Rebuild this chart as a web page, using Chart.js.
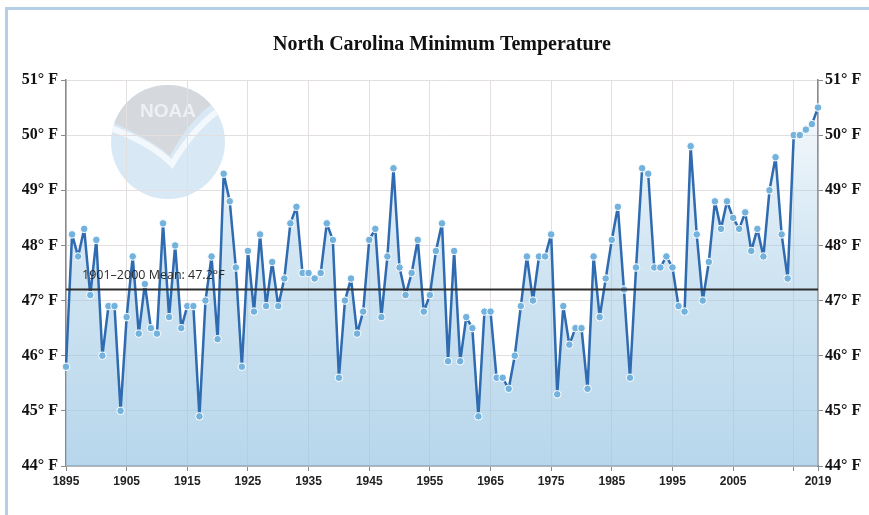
<!DOCTYPE html>
<html>
<head>
<title>North Carolina Minimum Temperature</title>
<script src="https://cdn.jsdelivr.net/npm/chart.js"></script>
<style>
  body { margin: 0; background: #fff; }
  #wrap { position: relative; width: 869px; height: 515px; overflow: hidden; }
  #frame { position: absolute; left: 5px; top: 7px; right: -5px; bottom: -5px;
           border-top: 3px solid #b5cfe7; border-left: 3px solid #b5cfe7; }
  canvas { position: absolute; left: 0; top: 0; }
</style>
</head>
<body>
<div id="wrap">
  <div id="frame"></div>
  <canvas id="tminChart" width="869" height="515"></canvas>
</div>

<script>
// annual mean minimum temperature, North Carolina (deg F), 1895..2019
const firstYear = 1895;
const tmin = [
  45.8, 48.2, 47.8, 48.3, 47.1, 48.1, 46.0, 46.9, 46.9, 45.0,
  46.7, 47.8, 46.4, 47.3, 46.5, 46.4, 48.4, 46.7, 48.0, 46.5,
  46.9, 46.9, 44.9, 47.0, 47.8, 46.3, 49.3, 48.8, 47.6, 45.8,
  47.9, 46.8, 48.2, 46.9, 47.7, 46.9, 47.4, 48.4, 48.7, 47.5,
  47.5, 47.4, 47.5, 48.4, 48.1, 45.6, 47.0, 47.4, 46.4, 46.8,
  48.1, 48.3, 46.7, 47.8, 49.4, 47.6, 47.1, 47.5, 48.1, 46.8,
  47.1, 47.9, 48.4, 45.9, 47.9, 45.9, 46.7, 46.5, 44.9, 46.8,
  46.8, 45.6, 45.6, 45.4, 46.0, 46.9, 47.8, 47.0, 47.8, 47.8,
  48.2, 45.3, 46.9, 46.2, 46.5, 46.5, 45.4, 47.8, 46.7, 47.4,
  48.1, 48.7, 47.2, 45.6, 47.6, 49.4, 49.3, 47.6, 47.6, 47.8,
  47.6, 46.9, 46.8, 49.8, 48.2, 47.0, 47.7, 48.8, 48.3, 48.8,
  48.5, 48.3, 48.6, 47.9, 48.3, 47.8, 49.0, 49.6, 48.2, 47.4,
  50.0, 50.0, 50.1, 50.2, 50.5
];
const years = tmin.map((v, i) => firstYear + i);

const xTicks = [1895, 1905, 1915, 1925, 1935, 1945, 1955, 1965, 1975, 1985, 1995, 2005, 2015, 2019];
const xHiddenLabels = [2015];
const yTicks = [44, 45, 46, 47, 48, 49, 50, 51];
const meanValue = 47.2;
const meanLabel = '1901\u20132000 Mean: 47.2\u00b0F';

const points = years.map((y, i) => ({ x: y, y: tmin[i] }));

// faint NOAA watermark behind the grid
const noaaLogo = {
  id: 'noaaLogo',
  beforeDraw(chart) {
    const ctx = chart.ctx;
    const cx = 168, cy = 142, r = 57;
    ctx.save();
    ctx.beginPath();
    ctx.arc(cx, cy, r, 0, Math.PI * 2);
    ctx.fillStyle = '#d8e9f5';
    ctx.fill();
    ctx.clip();
    // grey upper part with the bird's wing cut
    ctx.beginPath();
    ctx.moveTo(cx - r - 5, cy - 22);
    ctx.quadraticCurveTo(cx - 20, cy - 5, cx + 2, cy + 14);
    ctx.quadraticCurveTo(cx + 25, cy - 30, cx + r + 5, cy - 50);
    ctx.lineTo(cx + r + 5, cy - r - 5);
    ctx.lineTo(cx - r - 5, cy - r - 5);
    ctx.closePath();
    ctx.fillStyle = '#d5d8dd';
    ctx.fill();
    // white wing stroke
    ctx.beginPath();
    ctx.moveTo(cx - r, cy - 14);
    ctx.quadraticCurveTo(cx - 15, cy + 2, cx + 4, cy + 22);
    ctx.quadraticCurveTo(cx + 28, cy - 18, cx + r, cy - 36);
    ctx.strokeStyle = '#f3f8fc';
    ctx.lineWidth = 6;
    ctx.stroke();
    ctx.fillStyle = '#eef0f3';
    ctx.font = 'bold 19px "Liberation Sans", sans-serif';
    ctx.textAlign = 'center';
    ctx.textBaseline = 'middle';
    ctx.fillText('NOAA', cx, cy - 30);
    ctx.restore();
  }
};

// 1901-2000 mean reference line with its label
const meanLine = {
  id: 'meanLine',
  afterDatasetsDraw(chart) {
    const ctx = chart.ctx;
    const area = chart.chartArea;
    const y = chart.scales.y.getPixelForValue(meanValue);
    ctx.save();
    ctx.beginPath();
    ctx.moveTo(area.left, y);
    ctx.lineTo(area.right, y);
    ctx.strokeStyle = '#2e2e2e';
    ctx.lineWidth = 2;
    ctx.stroke();
    ctx.fillStyle = '#2a2a2a';
    ctx.font = '12.5px "Open Sans", sans-serif';
    ctx.textAlign = 'left';
    ctx.textBaseline = 'middle';
    ctx.fillText(meanLabel, area.left + 16, y - 14);
    ctx.restore();
  }
};

const yTickLabel = v => v + '\u00b0 F';

new Chart(document.getElementById('tminChart'), {
  type: 'line',
  data: {
    datasets: [{
      label: 'Minimum Temperature',
      data: points,
      clip: false,
      borderColor: '#2f6bb0',
      borderWidth: 2.5,
      borderJoinStyle: 'round',
      tension: 0,
      pointRadius: 3.8,
      pointBackgroundColor: '#74b2de',
      pointBorderColor: '#ffffff',
      pointBorderWidth: 1,
      fill: 'start',
      backgroundColor: function(context) {
        const area = context.chart.chartArea;
        if (!area) return 'rgba(156,199,228,0.4)';
        const g = context.chart.ctx.createLinearGradient(0, area.top, 0, area.bottom);
        g.addColorStop(0, 'rgba(156,199,228,0.05)');
        g.addColorStop(0.45, 'rgba(156,199,228,0.45)');
        g.addColorStop(1, 'rgba(156,199,228,0.72)');
        return g;
      }
    }]
  },
  options: {
    responsive: false,
    animation: false,
    layout: { padding: { top: 0, left: 0, right: 0, bottom: 0 } },
    scales: {
      x: {
        type: 'linear',
        min: firstYear,
        max: years[years.length - 1],
        afterBuildTicks: axis => { axis.ticks = xTicks.map(v => ({ value: v })); },
        afterFit: axis => { axis.height = 49; },
        ticks: {
          autoSkip: false,
          maxRotation: 0,
          padding: 3,
          color: '#222',
          font: { family: '"Liberation Sans", Arial, sans-serif', size: 12, weight: 'bold' },
          callback: v => xHiddenLabels.includes(v) ? '' : String(v)
        },
        grid: { color: '#e3dfdf', tickLength: 5, tickColor: '#8a8a8a' },
        border: { color: '#8a8a8a', width: 1.5 }
      },
      y: {
        position: 'left',
        min: 44,
        max: 51,
        afterBuildTicks: axis => { axis.ticks = yTicks.map(v => ({ value: v })); },
        afterFit: axis => { axis.width = 66; },
        ticks: {
          padding: 3,
          color: '#111',
          font: { family: '"Liberation Serif", "Times New Roman", serif', size: 16, weight: 'bold' },
          callback: yTickLabel
        },
        grid: { color: '#e3dfdf', tickLength: 5, tickColor: '#8a8a8a' },
        border: { color: '#8a8a8a', width: 1.5 }
      },
      y2: {
        position: 'right',
        min: 44,
        max: 51,
        afterBuildTicks: axis => { axis.ticks = yTicks.map(v => ({ value: v })); },
        afterFit: axis => { axis.width = 51; },
        ticks: {
          padding: 2,
          color: '#111',
          font: { family: '"Liberation Serif", "Times New Roman", serif', size: 16, weight: 'bold' },
          callback: yTickLabel
        },
        grid: { drawOnChartArea: false, tickLength: 5, tickColor: '#8a8a8a' },
        border: { color: '#8a8a8a', width: 1.5 }
      }
    },
    plugins: {
      legend: { display: false },
      tooltip: { enabled: false },
      title: {
        display: true,
        fullSize: false,
        text: 'North Carolina Minimum Temperature',
        color: '#111',
        font: { family: '"Liberation Serif", "Times New Roman", serif', size: 20, weight: 'bold', lineHeight: 1.2 },
        padding: { top: 33, bottom: 23 }
      }
    }
  },
  plugins: [noaaLogo, meanLine]
});
</script>
</body>
</html>
